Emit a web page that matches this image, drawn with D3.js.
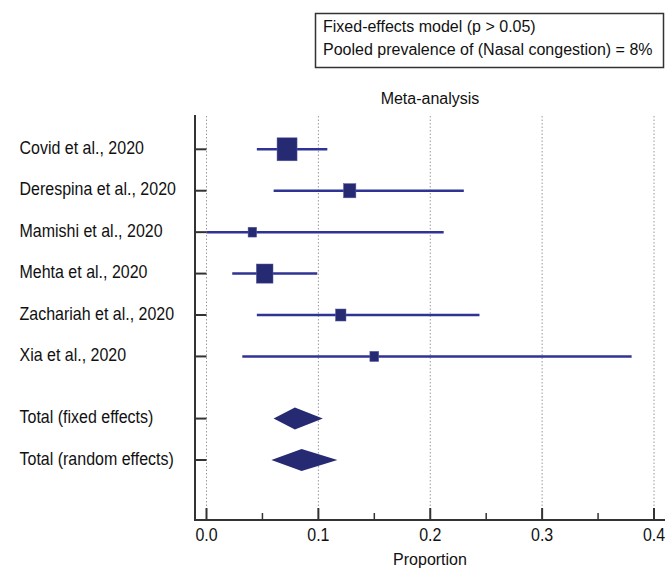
<!DOCTYPE html>
<html>
<head>
<meta charset="utf-8">
<script src="https://cdn.jsdelivr.net/npm/d3@7"></script>
<style>
  html, body { margin: 0; padding: 0; background: #fff; }
  svg { display: block; font-family: "Liberation Sans", Arial, sans-serif; }
</style>
</head>
<body>
<svg id="chart" width="670" height="568"></svg>
<script>
// Individual studies
const studies = [
  "Covid et al., 2020",
  "Derespina et al., 2020",
  "Mamishi et al., 2020",
  "Mehta et al., 2020",
  "Zachariah et al., 2020",
  "Xia et al., 2020"
];
const proportion = [0.072, 0.128, 0.041, 0.052, 0.120, 0.150];
const ciLow      = [0.045, 0.060, 0.000, 0.023, 0.045, 0.032];
const ciHigh     = [0.108, 0.230, 0.212, 0.099, 0.244, 0.380];
const weights    = [36.6, 14.0, 6.7, 25.4, 10.0, 7.2];

// Pooled estimates
const pooledLabels = ["Total (fixed effects)", "Total (random effects)"];
const pooledValue  = [0.079, 0.085];
const pooledLow    = [0.060, 0.058];
const pooledHigh   = [0.104, 0.117];

const xTicks = [0, 0.1, 0.2, 0.3, 0.4];
const xMinorTicks = [0.05, 0.15, 0.25, 0.35];
const legendLines = [
  "Fixed-effects model (p > 0.05)",
  "Pooled prevalence of (Nasal congestion) = 8%"
];
const chartTitle = "Meta-analysis";
const xTitle = "Proportion";

const svg = d3.select("#chart");
const axisColor = "#333";
const markFill = "#262a72";
const lineColor = "#2f3393";
const tallText = 1.18;   // row and tick labels use slightly elongated glyphs

// Row positions: studies first, then a half-row gap before the totals
const rowPos = studies.map((d, i) => i).concat([6.5, 7.5]);

const x = d3.scaleLinear().domain([0, 0.4]).range([206.5, 654]);
const y = d3.scaleLinear().domain([0, 7.5]).range([149.3, 460]);
const size = d3.scaleSqrt().domain([0, d3.max(weights)]).range([0, 20]);

const plotTop = 115, plotBottom = 520, plotLeft = 195, plotRight = 665;

// Dotted vertical gridlines
svg.append("g")
  .selectAll("line")
  .data(xTicks)
  .join("line")
  .attr("x1", d => x(d)).attr("x2", d => x(d))
  .attr("y1", plotTop + 1).attr("y2", plotBottom)
  .attr("stroke", "#9a9a9a")
  .attr("stroke-width", 1)
  .attr("stroke-dasharray", "1.5,2");

// Title
svg.append("text")
  .attr("x", 430).attr("y", 104)
  .attr("text-anchor", "middle")
  .attr("font-size", 16)
  .attr("fill", "#111")
  .text(chartTitle);

// Legend box
const legend = svg.append("g");
legend.append("rect")
  .attr("x", 315.5).attr("y", 13.5)
  .attr("width", 348).attr("height", 54)
  .attr("fill", "#fff")
  .attr("stroke", axisColor)
  .attr("stroke-width", 1.5);
legend.selectAll("text")
  .data(legendLines)
  .join("text")
  .attr("x", 323)
  .attr("y", (d, i) => 32 + i * 22.5)
  .attr("font-size", 16)
  .attr("fill", "#111")
  .text(d => d);

// Left axis with inward row ticks
const allLabels = studies.concat(pooledLabels);
svg.append("line")
  .attr("x1", plotLeft).attr("x2", plotLeft)
  .attr("y1", plotTop).attr("y2", plotBottom + 1)
  .attr("stroke", axisColor).attr("stroke-width", 2);
svg.append("g")
  .selectAll("line")
  .data(rowPos)
  .join("line")
  .attr("x1", plotLeft).attr("x2", x(0))
  .attr("y1", d => y(d)).attr("y2", d => y(d))
  .attr("stroke", axisColor).attr("stroke-width", 2);
svg.append("g")
  .selectAll("text")
  .data(allLabels)
  .join("text")
  .attr("transform", (d, i) => `translate(19.5,${y(rowPos[i]) + 4.7}) scale(1,${tallText})`)
  .attr("font-size", 16)
  .attr("fill", "#111")
  .text(d => d);

// Bottom axis (ticks point up into the plot)
const xAxis = svg.append("g").attr("transform", `translate(0,${plotBottom})`);
xAxis.append("line")
  .attr("x1", plotLeft - 1).attr("x2", plotRight)
  .attr("y1", 0).attr("y2", 0)
  .attr("stroke", axisColor).attr("stroke-width", 2);
xAxis.selectAll("line.major")
  .data(xTicks)
  .join("line").attr("class", "major")
  .attr("x1", d => x(d)).attr("x2", d => x(d))
  .attr("y1", 0).attr("y2", -12)
  .attr("stroke", axisColor).attr("stroke-width", 2);
xAxis.selectAll("line.minor")
  .data(xMinorTicks)
  .join("line").attr("class", "minor")
  .attr("x1", d => x(d)).attr("x2", d => x(d))
  .attr("y1", 0).attr("y2", -7)
  .attr("stroke", axisColor).attr("stroke-width", 1.5);
xAxis.selectAll("text")
  .data(xTicks)
  .join("text")
  .attr("transform", d => `translate(${x(d)},20.5) scale(1,${tallText})`)
  .attr("text-anchor", "middle")
  .attr("font-size", 16)
  .attr("fill", "#111")
  .text(d3.format(".1f"));
svg.append("text")
  .attr("x", 430).attr("y", 565)
  .attr("text-anchor", "middle")
  .attr("font-size", 16)
  .attr("fill", "#111")
  .text(xTitle);

// Study confidence intervals
const studyData = studies.map((s, i) => ({
  name: s, p: proportion[i], lo: ciLow[i], hi: ciHigh[i], w: weights[i], pos: rowPos[i]
}));
svg.append("g")
  .selectAll("line")
  .data(studyData)
  .join("line")
  .attr("x1", d => x(d.lo)).attr("x2", d => x(d.hi))
  .attr("y1", d => y(d.pos)).attr("y2", d => y(d.pos))
  .attr("stroke", lineColor)
  .attr("stroke-width", 2.5);

// Weighted squares
svg.append("g")
  .selectAll("rect")
  .data(studyData)
  .join("rect")
  .attr("x", d => x(d.p) - size(d.w) / 2)
  .attr("y", d => y(d.pos) - size(d.w) * 1.15 / 2)
  .attr("width", d => size(d.w))
  .attr("height", d => size(d.w) * 1.15)
  .attr("fill", markFill)
  .attr("stroke", "#5a5ea0")
  .attr("stroke-width", 0.5);

// Pooled diamonds
const pooledData = pooledLabels.map((s, i) => ({
  p: pooledValue[i], lo: pooledLow[i], hi: pooledHigh[i], pos: rowPos[studies.length + i]
}));
svg.append("g")
  .selectAll("path")
  .data(pooledData)
  .join("path")
  .attr("d", d => {
    const cy = y(d.pos), h = 11;
    return `M${x(d.lo)},${cy} L${x(d.p)},${cy - h} L${x(d.hi)},${cy} L${x(d.p)},${cy + h} Z`;
  })
  .attr("fill", markFill);
</script>
</body>
</html>
